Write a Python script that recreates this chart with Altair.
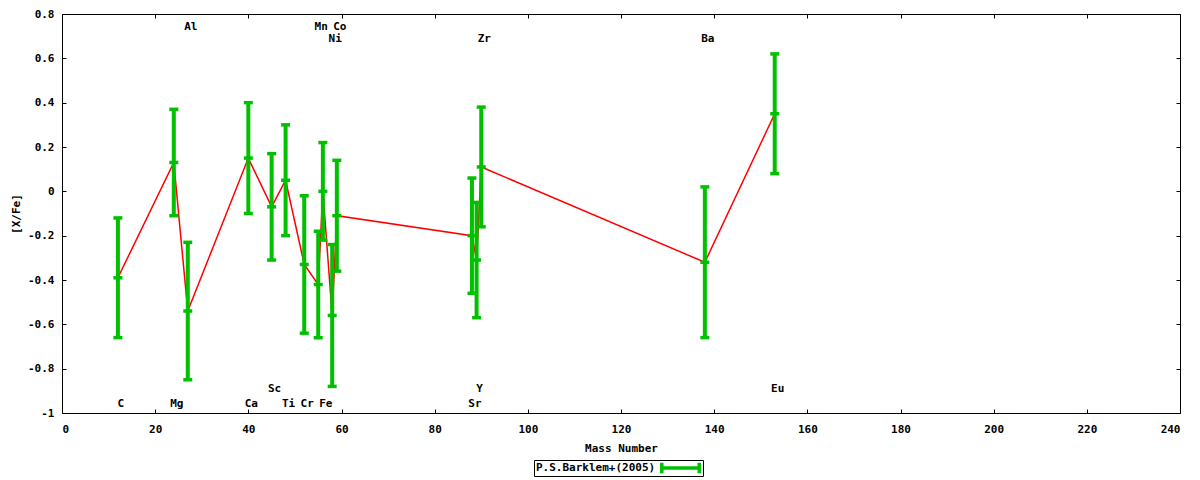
import pandas as pd
import altair as alt

# abundances
elements = ["C", "Mg", "Al", "Ca", "Sc", "Ti", "Cr", "Mn", "Fe", "Ni", "Co",
            "Sr", "Y", "Zr", "Ba", "Eu"]
mass = [12, 24, 27, 40, 45, 48, 52, 55, 56, 58, 59, 88, 89, 90, 138, 153]
xfe = [-0.39, 0.13, -0.54, 0.15, -0.07, 0.05, -0.33, -0.42, 0.00, -0.56, -0.11,
       -0.20, -0.31, 0.11, -0.32, 0.35]
err = [0.27, 0.24, 0.31, 0.25, 0.24, 0.25, 0.31, 0.24, 0.22, 0.32, 0.25,
       0.26, 0.26, 0.27, 0.34, 0.27]
# row in which each element name is written
label_y = [-0.96, -0.96, 0.74, -0.96, -0.89, -0.96, -0.96, 0.74, -0.96, 0.685, 0.74,
           -0.96, -0.89, 0.685, 0.685, -0.89]

x_ticks = list(range(0, 241, 20))
y_ticks = [round(-1 + 0.2 * i, 1) for i in range(10)]

df = pd.DataFrame({
    "element": elements,
    "mass": mass,
    "xfe": xfe,
    "err": err,
    "label_y": label_y,
    "series": "P.S.Barklem+(2005)",
})
df["low"] = df.xfe - df.err
df["high"] = df.xfe + df.err

FONT = "DejaVu Sans Mono"
GREEN = "#00c000"

x_scale = alt.Scale(domain=[0, 240], nice=False, zero=False)
y_scale = alt.Scale(domain=[-1, 0.8], nice=False, zero=False)

label_expr = "replace(format(datum.value, '~g'), '\u2212', '-')"

base = alt.Chart(df)

line = base.mark_line(color="#ff0000", strokeWidth=1.5).encode(
    x=alt.X("mass:Q", scale=x_scale, title="Mass Number",
            axis=alt.Axis(values=x_ticks, orient="bottom", offset=-4, tickSize=4,
                          domain=False, labelPadding=10, titlePadding=8,
                          labelExpr=label_expr)),
    y=alt.Y("xfe:Q", scale=y_scale, title="[X/Fe]",
            axis=alt.Axis(values=y_ticks, orient="left", offset=-4, tickSize=4,
                          domain=False, labelPadding=8, titlePadding=6,
                          labelExpr=label_expr)),
    order="mass:Q"
)

bars = base.mark_rule(strokeWidth=4).encode(
    x=alt.X("mass:Q", scale=x_scale,
            axis=alt.Axis(values=x_ticks, orient="top", offset=-4, tickSize=4,
                          domain=False, labels=False, title=None)),
    y=alt.Y("low:Q", scale=y_scale,
            axis=alt.Axis(values=y_ticks, orient="right", offset=-4, tickSize=4,
                          domain=False, labels=False, title=None)),
    y2="high:Q",
    color=alt.Color("series:N", scale=alt.Scale(range=[GREEN]),
                    legend=alt.Legend(
                        orient="none", legendX=472, legendY=446,
                        title="P.S.Barklem+(2005)", titleOrient="left",
                        titleFont=FONT, titleFontSize=11, titleFontWeight="bold",
                        titleColor="black", titlePadding=4, titleBaseline="middle",
                        labelExpr="''", labelOffset=0,
                        symbolType="M-1,-0.28L-1,0.28M-1,0L1,0M1,-0.28L1,0.28",
                        symbolSize=1400, symbolStrokeWidth=3.5,
                        clipHeight=12,
                        strokeColor="black", padding=2
                    ))
)

caps = [
    base.mark_tick(orient="horizontal", size=9, thickness=3.5, color=GREEN, opacity=1).encode(
        x=alt.X("mass:Q", scale=x_scale, axis=None),
        y=alt.Y(f"{col}:Q", scale=y_scale, axis=None)
    )
    for col in ["low", "xfe", "high"]
]

names = base.mark_text(font=FONT, fontSize=11, fontWeight="bold", color="black",
                       align="center", baseline="middle", dx=3).encode(
    x=alt.X("mass:Q", scale=x_scale, axis=None),
    y=alt.Y("label_y:Q", scale=y_scale, axis=None),
    text="element:N"
)

chart = alt.layer(line, bars, *caps, names).resolve_axis(
    x="independent", y="independent"
).properties(
    width=1118,
    height=399,
    autosize=alt.AutoSizeParams(type="none"),
    padding={"left": 54, "top": 6, "right": 10, "bottom": 66},
    background="white"
).configure_view(
    stroke="black", strokeWidth=1
).configure_axis(
    labelFont=FONT, labelFontSize=11, labelFontWeight="bold", labelColor="black",
    titleFont=FONT, titleFontSize=11, titleFontWeight="bold", titleColor="black",
    tickColor="black", grid=False
)

chart.save("out.html", embed_options={"renderer": "svg", "actions": False})
